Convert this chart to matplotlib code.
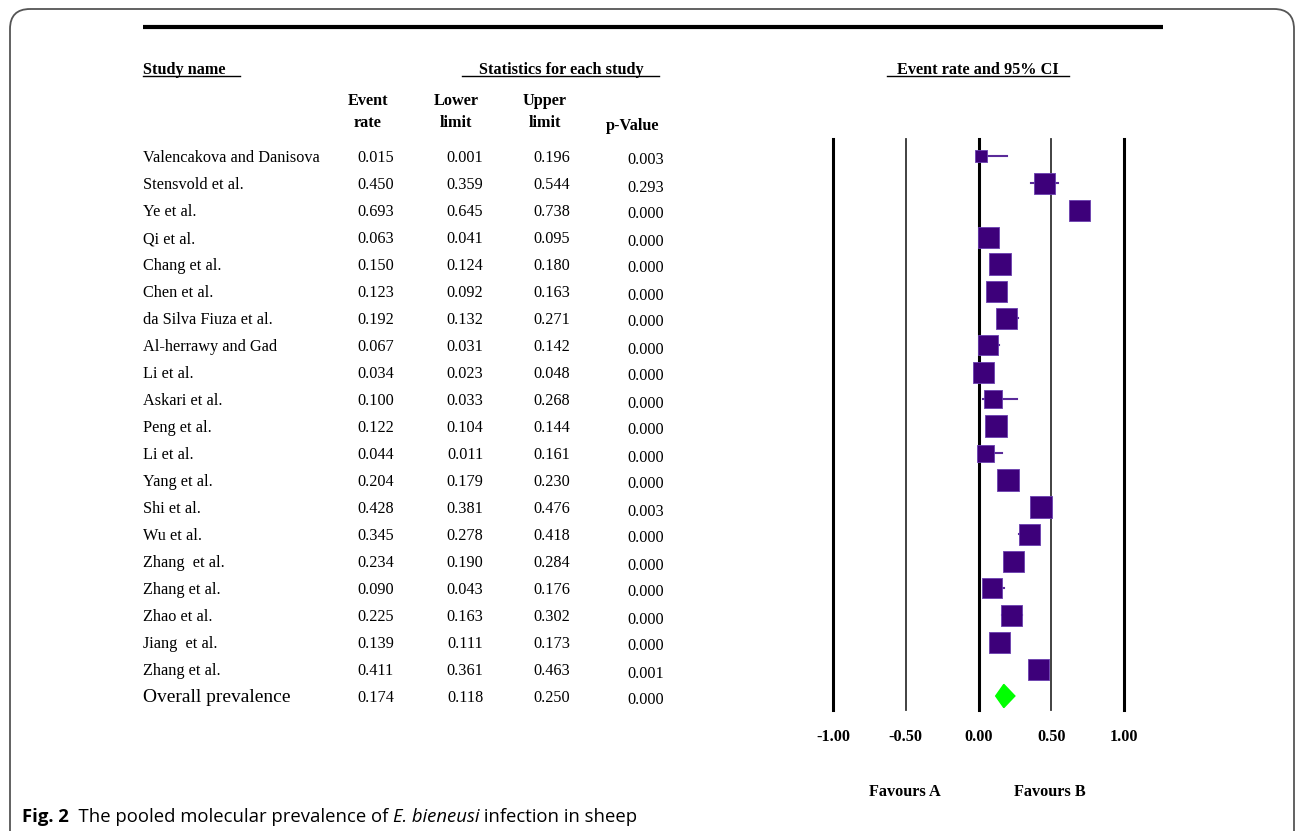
import matplotlib.pyplot as plt
from matplotlib.patches import FancyBboxPatch, Polygon

# data
studies = ['Valencakova and Danisova', 'Stensvold et al.', 'Ye et al.', 'Qi et al.',
           'Chang et al.', 'Chen et al.', 'da Silva Fiuza et al.', 'Al-herrawy and Gad',
           'Li et al.', 'Askari et al.', 'Peng et al.', 'Li et al.', 'Yang et al.',
           'Shi et al.', 'Wu et al.', 'Zhang  et al.', 'Zhang et al.', 'Zhao et al.',
           'Jiang  et al.', 'Zhang et al.']
event_rate = [0.015, 0.450, 0.693, 0.063, 0.150, 0.123, 0.192, 0.067, 0.034, 0.100,
              0.122, 0.044, 0.204, 0.428, 0.345, 0.234, 0.090, 0.225, 0.139, 0.411]
lower = [0.001, 0.359, 0.645, 0.041, 0.124, 0.092, 0.132, 0.031, 0.023, 0.033,
         0.104, 0.011, 0.179, 0.381, 0.278, 0.190, 0.043, 0.163, 0.111, 0.361]
upper = [0.196, 0.544, 0.738, 0.095, 0.180, 0.163, 0.271, 0.142, 0.048, 0.268,
         0.144, 0.161, 0.230, 0.476, 0.418, 0.284, 0.176, 0.302, 0.173, 0.463]
p_value = [0.003, 0.293, 0.000, 0.000, 0.000, 0.000, 0.000, 0.000, 0.000, 0.000,
           0.000, 0.000, 0.000, 0.003, 0.000, 0.000, 0.000, 0.000, 0.000, 0.001]
# relative weight (square side)
weight = [12, 21, 21, 21, 22, 21, 21, 20, 21, 18, 22, 17, 22, 22, 21, 21, 20, 21, 21, 21]
overall = dict(name='Overall prevalence', rate=0.174, lo=0.118, hi=0.250, p=0.000)
ticks = [-1.0, -0.5, 0.0, 0.5, 1.0]

W, H = 1298, 831
fig = plt.figure(figsize=(W / 100, H / 100), dpi=100)
bg = fig.add_axes([0, 0, 1, 1])
bg.set_xlim(0, W)
bg.set_ylim(H, 0)
bg.axis('off')

serif = 'Liberation Serif'
fs = 11.7
dy = 2  # small baseline nudge

# rounded frame, open at the bottom
bg.add_patch(FancyBboxPatch((10, 9), 1284, 900, boxstyle='round,pad=0,rounding_size=20',
                            fc='none', ec='#555555', lw=1.3))
bg.plot([143, 1163], [27, 27], color='black', lw=3, solid_capstyle='butt')

# headers
bg.text(143, 68 + dy, 'Study name', fontfamily=serif, fontweight='bold', fontsize=fs, va='center')
bg.plot([143, 240], [76, 76], color='black', lw=1)
bg.text(561, 68 + dy, 'Statistics for each study', fontfamily=serif, fontweight='bold',
        fontsize=fs, va='center', ha='center')
bg.plot([462, 659], [76, 76], color='black', lw=1)
bg.text(978, 68 + dy, 'Event rate and 95% CI', fontfamily=serif, fontweight='bold',
        fontsize=fs, va='center', ha='center')
bg.plot([887, 1069], [76, 76], color='black', lw=1)

col_x = [376, 465, 552, 646]
for x, lab in zip([368, 456, 545], ['Event\nrate', 'Lower\nlimit', 'Upper\nlimit']):
    bg.text(x, 110 + dy, lab, fontfamily=serif, fontweight='bold', fontsize=fs,
            ha='center', va='center', linespacing=1.55)
bg.text(633, 124 + dy, 'p-Value', fontfamily=serif, fontweight='bold', fontsize=fs,
        ha='center', va='center')

row_y0, row_dy = 156, 27
for i, name in enumerate(studies):
    y = row_y0 + i * row_dy + dy
    bg.text(143, y, name, fontfamily=serif, fontsize=fs, va='center')
    for x, v in zip(col_x[:3], [event_rate[i], lower[i], upper[i]]):
        bg.text(x, y, f'{v:.3f}', fontfamily=serif, fontsize=fs, ha='center', va='center')
    bg.text(col_x[3], y + 2.5, f'{p_value[i]:.3f}', fontfamily=serif, fontsize=fs,
            ha='center', va='center')

y = row_y0 + len(studies) * row_dy + dy
bg.text(143, y - 1, overall['name'], fontfamily=serif, fontsize=14, va='center')
for x, v in zip(col_x[:3], [overall['rate'], overall['lo'], overall['hi']]):
    bg.text(x, y, f'{v:.3f}', fontfamily=serif, fontsize=fs, ha='center', va='center')
bg.text(col_x[3], y + 2.5, f"{overall['p']:.3f}", fontfamily=serif, fontsize=fs,
        ha='center', va='center')

# forest plot axes (pixel-aligned)
x0, x1 = 833, 1124
y_top, y_bot = 139, 710
n = len(studies)
to_idx = lambda py: (py - row_y0) / row_dy
ax = fig.add_axes([x0 / W, 1 - y_bot / H, (x1 - x0) / W, (y_bot - y_top) / H])
ax.set_xlim(-1, 1)
ax.set_ylim(to_idx(y_bot), to_idx(y_top))
ax.axis('off')

for t in ticks:
    thin = abs(t) == 0.5
    ax.axvline(t, color='#333333' if thin else 'black', lw=1.3 if thin else 2.2,
               clip_on=False)

color = '#3d007a'
for i in range(n):
    ax.plot([lower[i], upper[i]], [i, i], color='#5a2a99', lw=1.5, zorder=2)
    ax.scatter(event_rate[i], i, marker='s', s=(weight[i] * 0.72) ** 2, color=color,
               edgecolor='#6a3fb0', linewidth=0.6, zorder=3)

dh = 0.43
ax.add_patch(Polygon([[overall['lo'], n], [overall['rate'], n - dh],
                      [overall['hi'], n], [overall['rate'], n + dh]],
                     closed=True, color='#00ff00', zorder=3))

for t in ticks:
    bg.text(x0 + (t + 1) / 2 * (x1 - x0), 735 + dy, f'{t:.2f}', fontfamily=serif,
            fontweight='bold', fontsize=fs, ha='center', va='center')
bg.text(905, 790 + dy, 'Favours A', fontfamily=serif, fontweight='bold', fontsize=fs,
        ha='center', va='center')
bg.text(1050, 790 + dy, 'Favours B', fontfamily=serif, fontweight='bold', fontsize=fs,
        ha='center', va='center')

# caption with mixed styles
r = fig.canvas.get_renderer()
cx = 22
for txt, kw in [('Fig. 2', dict(fontweight='bold')), ('  The pooled molecular prevalence of ', {}),
                ('E. bieneusi', dict(style='italic')), (' infection in sheep', {})]:
    t = bg.text(cx, 817, txt, fontfamily='Open Sans', fontsize=13.3, va='center', **kw)
    bb = t.get_window_extent(renderer=r)
    cx += bb.width

fig.savefig('out.png', dpi=100)
